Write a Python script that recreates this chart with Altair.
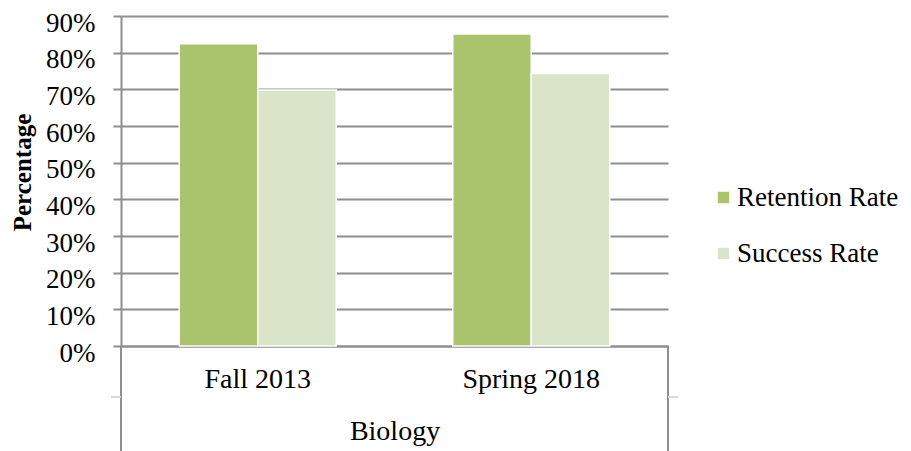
import altair as alt
import pandas as pd

terms = ["Fall 2013", "Spring 2018"]
series = ["Retention Rate", "Success Rate"]
retention = [0.824, 0.851]
success = [0.698, 0.743]

rows = []
for i, t in enumerate(terms):
    rows.append({"term": t, "series": series[0], "value": retention[i]})
    rows.append({"term": t, "series": series[1], "value": success[i]})
df = pd.DataFrame(rows)

FONT = "Liberation Serif"
GRID = "#8e8e8e"
W, H = 547, 330

bars = alt.Chart(df).mark_bar(stroke="white", strokeWidth=1.5).encode(
    x=alt.X("term:N", sort=terms,
            scale=alt.Scale(paddingInner=0, paddingOuter=0),
            axis=alt.Axis(title="Biology", labelAngle=0, labelFontSize=28,
                          labelFont=FONT, labelColor="#000", labelPadding=19,
                          ticks=False, domainColor=GRID, domainWidth=2,
                          titleFont=FONT, titleFontSize=28, titleFontWeight="normal",
                          titleColor="#000", titlePadding=24)),
    xOffset=alt.XOffset("series:N", sort=series,
                        scale=alt.Scale(paddingInner=0, paddingOuter=0.742)),
    y=alt.Y("value:Q",
            scale=alt.Scale(domain=[0, 0.9], nice=False),
            axis=alt.Axis(title="Percentage", format=".0%", values=[i / 10 for i in range(10)],
                          labelFontSize=27, labelFont=FONT, labelColor="#000",
                          labelPadding=18, labelOffset=7, tickSize=8, tickColor=GRID, tickWidth=2,
                          domainColor=GRID, domainWidth=2,
                          gridColor=GRID, gridWidth=2,
                          titleFont=FONT, titleFontSize=25, titleFontWeight="bold",
                          titleColor="#000", titlePadding=10, titleY=156)),
    color=alt.Color("series:N", sort=series,
                    scale=alt.Scale(domain=series, range=["#a9c46c", "#d9e4c9"]),
                    legend=alt.Legend(title=None, orient="none", legendX=589, legendY=168,
                                      symbolType="square", symbolSize=130,
                                      symbolStrokeWidth=0, labelLimit=400,
                                      labelFont=FONT, labelFontSize=27, labelColor="#000",
                                      rowPadding=28, labelOffset=0, padding=0)),
)

left_rule = alt.Chart(df).mark_rule(color=GRID, strokeWidth=2).encode(
    x=alt.value(0), y=alt.value(H), y2=alt.value(H + 106)
)
right_rule = alt.Chart(df).mark_rule(color=GRID, strokeWidth=2).encode(
    x=alt.value(W), y=alt.value(H), y2=alt.value(H + 106)
)
left_tick = alt.Chart(df).mark_rule(color="#d6d6d6", strokeWidth=1).encode(
    x=alt.value(-10), x2=alt.value(0), y=alt.value(H + 51)
)
right_tick = alt.Chart(df).mark_rule(color="#d6d6d6", strokeWidth=1).encode(
    x=alt.value(W), x2=alt.value(W + 10), y=alt.value(H + 51)
)

chart = alt.layer(bars, left_rule, right_rule, left_tick, right_tick).properties(
    width=W, height=H,
    autosize=alt.AutoSizeParams(type="none"),
    padding={"left": 113, "top": 8, "right": 235, "bottom": 105},
).configure_view(stroke=None)

chart.save("out.html", embed_options={"renderer": "svg", "actions": False})
